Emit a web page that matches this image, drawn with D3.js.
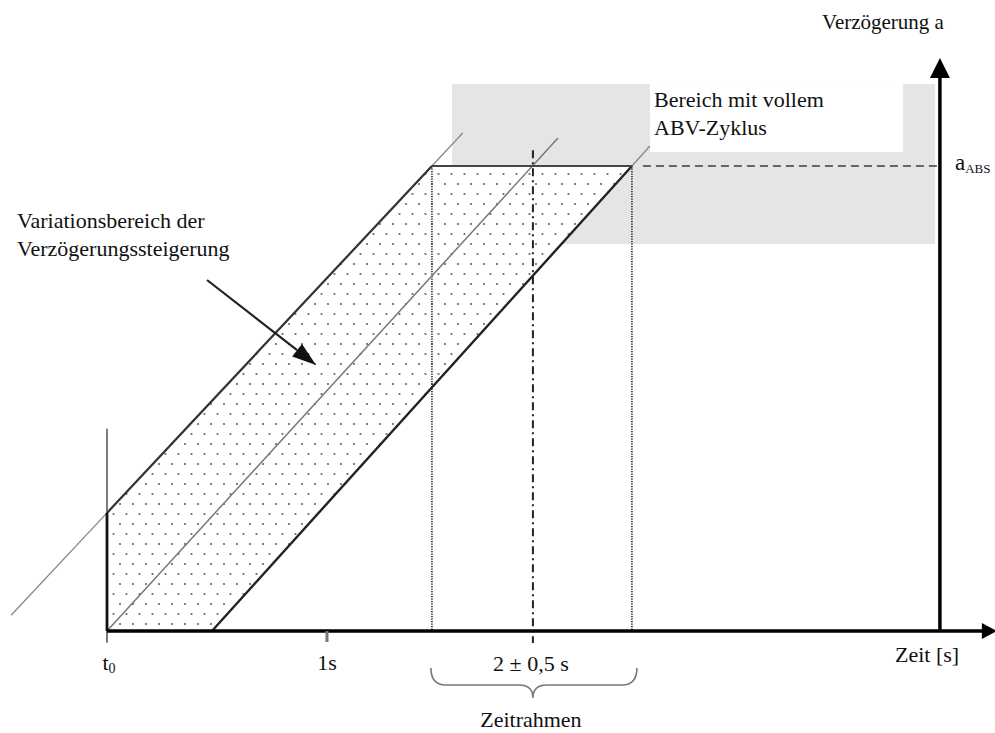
<!DOCTYPE html>
<html><head><meta charset="utf-8">
<script src="https://cdn.jsdelivr.net/npm/d3@7"></script>
<style>
html,body{margin:0;padding:0;background:#fff;}
text{font-family:"Liberation Serif","Times New Roman",serif;fill:#111;}
</style></head>
<body>
<svg id="c" width="995" height="733"></svg>
<script>
// ---- data (time t in s relative to t0, deceleration a relative to a_ABS) ----
const axisTicks = [{t: 0, label: "t", sub: "0"}, {t: 1, label: "1s", sub: ""}];
const windowTimes = [1.477, 1.936, 2.386];          // start, centre, end of time window
const windowLabel = "2 ± 0,5 s";
const windowName = "Zeitrahmen";
const upperRamp = [[-0.436, 0.034], [0, 0.254], [1.477, 1], [1.617, 1.071]];
const middleRamp = [[0, 0], [2.05, 1.06]];
const lowerRamp = [[0.477, 0], [2.386, 1], [2.468, 1.043]];
const aABS = 1;
const fullCycleZone = {t0: 1.568, t1: 3.764, a0: 0.832, a1: 1.176};
const fullCycleLabelBox = {t0: 2.468, t1: 3.618, a0: 1.030, a1: 1.176};
const yAxisT = 3.786, yAxisTop = 1.232, xAxisEnd = 4.045, t0LineTop = 0.435;
const labels = {
  yAxis: "Verzögerung a", xAxis: "Zeit [s]",
  zone: ["Bereich mit vollem", "ABV-Zyklus"],
  band: ["Variationsbereich der", "Verzögerungssteigerung"],
  aMain: "a", aSub: "ABS"
};

// ---- scales ----
const x = d3.scaleLinear().domain([0, 1]).range([107, 327]);
const y = d3.scaleLinear().domain([0, 1]).range([631, 166]);
const svg = d3.select("#c");
const line = d3.line().x(d => x(d[0])).y(d => y(d[1]));

// stipple pattern
const defs = svg.append("defs");
const pat = defs.append("pattern").attr("id", "dots").attr("patternUnits", "userSpaceOnUse")
  .attr("width", 13).attr("height", 20);
pat.append("circle").attr("cx", 3).attr("cy", 4).attr("r", 1.1).attr("fill", "#666");
pat.append("circle").attr("cx", 9.5).attr("cy", 14).attr("r", 1.1).attr("fill", "#666");

// grey zone
svg.append("rect").attr("x", x(fullCycleZone.t0)).attr("y", y(fullCycleZone.a1))
  .attr("width", x(fullCycleZone.t1) - x(fullCycleZone.t0))
  .attr("height", y(fullCycleZone.a0) - y(fullCycleZone.a1)).attr("fill", "#e5e5e5");
svg.append("rect").attr("x", x(fullCycleLabelBox.t0)).attr("y", y(fullCycleLabelBox.a1))
  .attr("width", x(fullCycleLabelBox.t1) - x(fullCycleLabelBox.t0))
  .attr("height", y(fullCycleLabelBox.a0) - y(fullCycleLabelBox.a1)).attr("fill", "#fff");

// stippled band (white under dots)
const band = [[0, 0], upperRamp[1], upperRamp[2], lowerRamp[1], lowerRamp[0]];
svg.append("path").attr("d", line(band) + "Z").attr("fill", "#fff");
svg.append("path").attr("d", line(band) + "Z").attr("fill", "url(#dots)");

// dotted verticals at window start/end
[windowTimes[0], windowTimes[2]].forEach(t => {
  svg.append("line").attr("x1", x(t)).attr("x2", x(t)).attr("y1", y(aABS)).attr("y2", y(0))
    .attr("stroke", "#222").attr("stroke-width", 1.6).attr("stroke-dasharray", "1.2,1.3");
});
// dash-dot centre line
svg.append("line").attr("x1", x(windowTimes[1])).attr("x2", x(windowTimes[1]))
  .attr("y1", y(1.034)).attr("y2", y(-0.026))
  .attr("stroke", "#222").attr("stroke-width", 2).attr("stroke-dasharray", "8,4,2,4");

// ramps: thin extensions
svg.append("path").attr("d", line(upperRamp)).attr("fill", "none").attr("stroke", "#888").attr("stroke-width", 1.3);
svg.append("path").attr("d", line(lowerRamp.slice(1))).attr("fill", "none").attr("stroke", "#888").attr("stroke-width", 1.3);
svg.append("path").attr("d", line(middleRamp)).attr("fill", "none").attr("stroke", "#777").attr("stroke-width", 1.5);
// ramps: thick parts
svg.append("path").attr("d", line(upperRamp.slice(1, 3))).attr("fill", "none").attr("stroke", "#333").attr("stroke-width", 2.2);
svg.append("path").attr("d", line(lowerRamp.slice(0, 2))).attr("fill", "none").attr("stroke", "#222").attr("stroke-width", 2.4);
// plateau line
svg.append("line").attr("x1", x(windowTimes[0])).attr("x2", x(windowTimes[2])).attr("y1", y(aABS)).attr("y2", y(aABS))
  .attr("stroke", "#444").attr("stroke-width", 2.2);
// dashed a_ABS line
svg.append("line").attr("x1", x(2.436)).attr("x2", x(yAxisT)).attr("y1", y(aABS)).attr("y2", y(aABS))
  .attr("stroke", "#666").attr("stroke-width", 2).attr("stroke-dasharray", "8,5");

// t0 vertical
svg.append("line").attr("x1", x(0)).attr("x2", x(0)).attr("y1", y(t0LineTop)).attr("y2", y(-0.025))
  .attr("stroke", "#444").attr("stroke-width", 1.4);
svg.append("line").attr("x1", x(0)).attr("x2", x(0)).attr("y1", y(upperRamp[1][1])).attr("y2", y(0))
  .attr("stroke", "#111").attr("stroke-width", 2.8);

// x axis
svg.append("line").attr("x1", x(0)).attr("x2", x(xAxisEnd) - 10).attr("y1", y(0)).attr("y2", y(0))
  .attr("stroke", "#000").attr("stroke-width", 3.5);
svg.append("path").attr("d", `M${x(xAxisEnd)},${y(0)} L${x(xAxisEnd) - 15},${y(0) - 8} L${x(xAxisEnd) - 15},${y(0) + 8}Z`).attr("fill", "#000");
// y axis
svg.append("line").attr("x1", x(yAxisT)).attr("x2", x(yAxisT)).attr("y1", y(0)).attr("y2", y(yAxisTop) + 12)
  .attr("stroke", "#000").attr("stroke-width", 3.5);
svg.append("path").attr("d", `M${x(yAxisT)},${y(yAxisTop)} L${x(yAxisT) - 10},${y(yAxisTop) + 20} L${x(yAxisT) + 10},${y(yAxisTop) + 20}Z`).attr("fill", "#000");

// ticks + labels
axisTicks.forEach(d => {
  if (d.t !== 0) svg.append("line").attr("x1", x(d.t)).attr("x2", x(d.t)).attr("y1", y(0)).attr("y2", y(0) + 11)
    .attr("stroke", "#777").attr("stroke-width", 3);
  const tx = svg.append("text").attr("x", x(d.t) + (d.sub ? 2 : 0)).attr("y", 670).attr("text-anchor", "middle").attr("font-size", 22);
  tx.append("tspan").text(d.label);
  if (d.sub) tx.append("tspan").attr("font-size", 14).attr("dy", 3).text(d.sub);
});
svg.append("text").attr("x", x(windowTimes[1]) - 2).attr("y", 671).attr("text-anchor", "middle").attr("font-size", 22).text(windowLabel);
// brace
const bl = x(windowTimes[0]) - 1, br = x(windowTimes[2]) + 5, bc = x(windowTimes[1]);
svg.append("path").attr("d",
  `M${bl},668 Q${bl},685 ${bl + 15},685 L${bc - 14},685 Q${bc},685 ${bc},698 Q${bc},685 ${bc + 14},685 L${br - 15},685 Q${br},685 ${br},668`)
  .attr("fill", "none").attr("stroke", "#777").attr("stroke-width", 1.6);
svg.append("text").attr("x", bc - 2).attr("y", 727).attr("text-anchor", "middle").attr("font-size", 22).text(windowName);

svg.append("text").attr("x", 895).attr("y", 662).attr("font-size", 22).text(labels.xAxis);
svg.append("text").attr("x", 883).attr("y", 29).attr("text-anchor", "middle").attr("font-size", 21).text(labels.yAxis);
const at = svg.append("text").attr("x", 955).attr("y", 170).attr("font-size", 23);
at.append("tspan").text(labels.aMain);
at.append("tspan").attr("font-size", 13).attr("dy", 3).text(labels.aSub);

labels.zone.forEach((s, i) => svg.append("text").attr("x", 654).attr("y", 107 + i * 28).attr("font-size", 22).text(s));
labels.band.forEach((s, i) => svg.append("text").attr("x", 17).attr("y", 228 + i * 28).attr("font-size", 22).text(s));

// pointer arrow
const ax0 = 207, ay0 = 280, ax1 = 316, ay1 = 365;
const ang = Math.atan2(ay1 - ay0, ax1 - ax0), hl = 24, hw = 8;
const bx = ax1 - hl * Math.cos(ang), by = ay1 - hl * Math.sin(ang);
svg.append("line").attr("x1", ax0).attr("y1", ay0).attr("x2", bx).attr("y2", by).attr("stroke", "#222").attr("stroke-width", 2.2);
svg.append("path").attr("d", `M${ax1},${ay1} L${bx + hw * Math.sin(ang)},${by - hw * Math.cos(ang)} L${bx - hw * Math.sin(ang)},${by + hw * Math.cos(ang)}Z`).attr("fill", "#111");
</script>
</body></html>
